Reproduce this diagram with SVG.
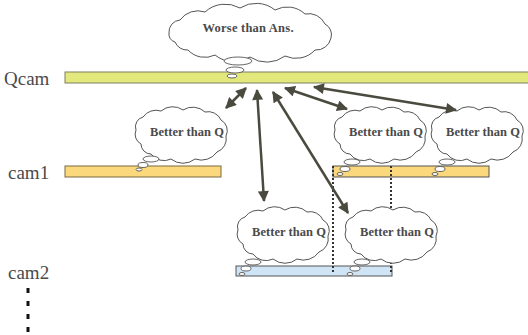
<svg xmlns="http://www.w3.org/2000/svg" width="528" height="335" viewBox="0 0 528 335">
<style>
.lbl{font-family:'Liberation Serif','Times New Roman',serif;font-size:19px;fill:#4a4a4a}
.ct{font-family:'Liberation Serif','Times New Roman',serif;font-size:12.5px;font-weight:bold;fill:#4a4a4a;text-anchor:middle}
.cloud{fill:#fff;stroke:#555;stroke-width:1}
.bub{fill:#fff;stroke:#555;stroke-width:0.9}
.arr{stroke:#4b4a3f;stroke-width:2.5;fill:none;marker-start:url(#ah);marker-end:url(#ah)}
.dot{stroke:#333;stroke-width:2;stroke-dasharray:2 2;fill:none}
</style>
<defs>
<marker id="ah" viewBox="0 0 10 10" refX="9" refY="5" markerUnits="userSpaceOnUse" markerWidth="12" markerHeight="11" orient="auto-start-reverse">
<path d="M0,0 L10,5 L0,10 z" fill="#4b4a3f"/>
</marker>
<path id="cl" d="M3,22 A10,10 0 0 1 10,9 A16,16 0 0 1 28,3 A18,18 0 0 1 50,2 A18,18 0 0 1 72,4 A14,14 0 0 1 88,12 A12,12 0 0 1 93,28 A14,14 0 0 1 84,44 A19,19 0 0 1 62,51 A19,19 0 0 1 38,51 A16,16 0 0 1 18,46 A10,10 0 0 1 8,36 A11,11 0 0 1 3,22 z"/>
</defs>

<g id="bars">
<rect id="qcam-bar" x="65" y="72" width="470" height="11" fill="#e2e87c" stroke="#7f7f60" stroke-width="1"/>
<rect id="cam1-bar-a" x="65" y="166" width="156" height="11" fill="#fbd87c" stroke="#7a6a45" stroke-width="1"/>
<rect id="cam1-bar-b" x="333" y="166" width="156" height="11" fill="#fbd87c" stroke="#555" stroke-width="1"/>
<rect id="cam2-bar" x="236" y="266" width="156" height="10" fill="#cfe4f4" stroke="#555" stroke-width="1"/>
</g>

<g id="labels">
<text class="lbl" x="4" y="85">Qcam</text>
<text class="lbl" x="8" y="179">cam1</text>
<text class="lbl" x="8" y="279">cam2</text>
</g>

<g id="dotted">
<line class="dot" x1="333" y1="166" x2="333" y2="274"/>
<line class="dot" x1="391" y1="166" x2="391" y2="274"/>
<line x1="28" y1="288" x2="28" y2="335" stroke="#111" stroke-width="3" stroke-dasharray="5 8"/>
</g>

<g id="cloud-worse">
<path class="cloud" d="M169,33 A12,12 0 0 1 180,20 A22,22 0 0 1 205,12 A30,30 0 0 1 240,8 A30,30 0 0 1 275,10 A26,26 0 0 1 305,14 A18,18 0 0 1 325,24 A12,12 0 0 1 331,38 A15,15 0 0 1 315,50 A26,26 0 0 1 285,56 A30,30 0 0 1 250,57 A30,30 0 0 1 215,55 A23,23 0 0 1 188,50 A13,13 0 0 1 175,42 A8,8 0 0 1 169,33 z"/>
<ellipse class="bub" cx="238" cy="61" rx="14" ry="4"/>
<ellipse class="bub" cx="235" cy="70" rx="9" ry="3"/>
<ellipse class="bub" cx="232" cy="76" rx="5" ry="2"/>
<text class="ct" x="248" y="32" font-size="13.5" textLength="91">Worse than Ans.</text>
</g>

<g id="cloud-cam1-a">
<use href="#cl" class="cloud" transform="translate(133,108)"/>
<ellipse class="bub" cx="151" cy="159" rx="8" ry="3"/>
<ellipse class="bub" cx="143" cy="165" rx="5" ry="2.5"/>
<ellipse class="bub" cx="139" cy="169.5" rx="3" ry="1.5"/>
<text class="ct" x="187" y="136" textLength="74">Better than Q</text>
</g>

<g id="cloud-cam1-b">
<use href="#cl" class="cloud" transform="translate(332,108)"/>
<ellipse class="bub" cx="352" cy="162" rx="8" ry="3"/>
<ellipse class="bub" cx="345" cy="169" rx="5" ry="2.5"/>
<ellipse class="bub" cx="340" cy="174" rx="3" ry="1.5"/>
<text class="ct" x="386" y="136" textLength="74">Better than Q</text>
</g>

<g id="cloud-cam1-c">
<use href="#cl" class="cloud" transform="translate(429,108)"/>
<ellipse class="bub" cx="447" cy="162" rx="8" ry="3"/>
<ellipse class="bub" cx="440" cy="169" rx="5" ry="2.5"/>
<ellipse class="bub" cx="435" cy="174" rx="3" ry="1.5"/>
<text class="ct" x="483" y="136" textLength="74">Better than Q</text>
</g>

<g id="cloud-cam2-a">
<use href="#cl" class="cloud" transform="translate(235,208)"/>
<ellipse class="bub" cx="253" cy="262" rx="8" ry="3"/>
<ellipse class="bub" cx="246" cy="268.5" rx="5" ry="2.5"/>
<ellipse class="bub" cx="242" cy="274" rx="3" ry="1.5"/>
<text class="ct" x="289" y="236" textLength="74">Better than Q</text>
</g>

<g id="cloud-cam2-b">
<use href="#cl" class="cloud" transform="translate(343,208)"/>
<ellipse class="bub" cx="362" cy="262" rx="8" ry="3"/>
<ellipse class="bub" cx="355" cy="268.5" rx="5" ry="2.5"/>
<ellipse class="bub" cx="350" cy="274" rx="3" ry="1.5"/>
<text class="ct" x="397" y="236" textLength="74">Better than Q</text>
</g>

<g id="connectors">
<line class="arr" x1="246" y1="88" x2="226" y2="108"/>
<line class="arr" x1="257" y1="90" x2="264" y2="201"/>
<line class="arr" x1="273" y1="92" x2="348" y2="213"/>
<line class="arr" x1="285" y1="88" x2="347" y2="109"/>
<line class="arr" x1="314" y1="87" x2="456" y2="110"/>
</g>
</svg>
